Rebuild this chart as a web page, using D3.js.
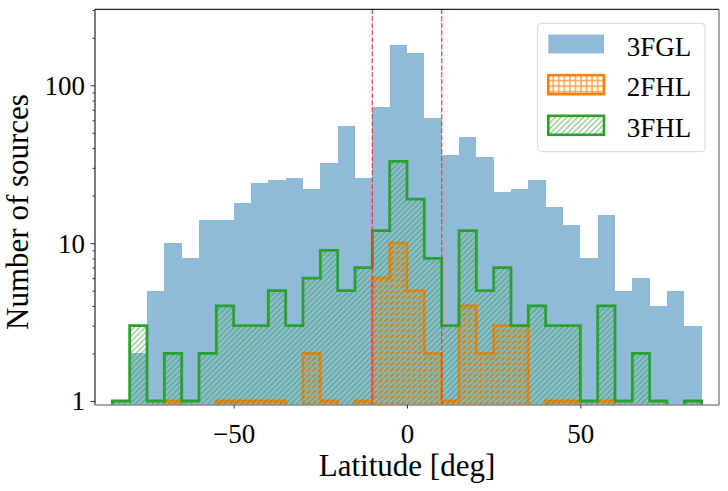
<!DOCTYPE html>
<html><head><meta charset="utf-8">
<script src="https://cdn.jsdelivr.net/npm/d3@7"></script>
<style>
html,body{margin:0;padding:0;background:#fff;}
svg text{font-family:"Liberation Serif","DejaVu Serif",serif;fill:#000;}
</style></head>
<body><svg id="c" width="728" height="491"></svg>
<script>
// bin edges (deg)
const binStart = -85, binWidth = 5;
const latEdges = [-85,-80,-75,-70,-65,-60,-55,-50,-45,-40,-35,-30,-25,-20,-15,-10,-5,0,5,10,15,20,25,30,35,40,45,50,55,60,65,70,75,80,85];
// counts per bin
const fgl3 = [1,2,5,10,8,14,14,18,24,25,26,22,32,55,26,73,180,160,62,36,47,35,21,22,25,17,13,8,15,5,6,4,5,3];
const fhl2 = [0,0,0,1,0,0,1,1,1,1,0,2,1,0,1,6,10,5,2,1,4,2,3,3,0,1,1,0,1,0,0,0,0,0];
const fhl3 = [1,3,1,2,1,2,4,3,3,5,3,6,9,5,7,12,33,19,8,3,12,5,7,3,4,3,3,1,4,1,2,1,0,1];
const xTicks = [-50,0,50];
const yTicks = [1,10,100];
const vLines = [-10,10];
const seriesNames = ["3FGL","2FHL","3FHL"];

const svg = d3.select("#c");
const L = 95, R = 719, T = 9.3, B = 405;
const x = d3.scaleLinear().domain([-90,90]).range([L,R]);
const y = d3.scaleLog().domain([0.943,303]).range([B,T]);

const defs = svg.append("defs");
defs.append("clipPath").attr("id","clip").append("rect")
  .attr("x",L).attr("y",T).attr("width",R-L).attr("height",B-T);
const hs = 5.56;
const pg = defs.append("pattern").attr("id","hatchG").attr("patternUnits","userSpaceOnUse")
  .attr("width",hs).attr("height",hs);
pg.append("path").attr("d",`M0,${hs} L${hs},0 M${-hs/2},${hs/2} L${hs/2},${-hs/2} M${hs/2},${hs*1.5} L${hs*1.5},${hs/2}`)
  .attr("stroke","#2ca02c").attr("stroke-width",1).attr("stroke-opacity",0.75);
const po = defs.append("pattern").attr("id","hatchO").attr("patternUnits","userSpaceOnUse")
  .attr("width",hs).attr("height",hs);
po.append("path").attr("d",`M0,${hs/2} L${hs},${hs/2} M${hs/2},0 L${hs/2},${hs}`)
  .attr("stroke","#ff7f0e").attr("stroke-width",1.3).attr("stroke-opacity",0.8);

const plot = svg.append("g").attr("clip-path","url(#clip)");

// 3FGL bars
plot.selectAll("rect.fgl").data(fgl3).enter().append("rect")
  .attr("x",(d,i)=>x(latEdges[i]))
  .attr("width",(d,i)=>x(latEdges[i+1])-x(latEdges[i]))
  .attr("y",d=> d>0 ? y(d) : B)
  .attr("height",d=> d>0 ? B+5-y(d) : 0)
  .attr("fill","#1f77b4").attr("fill-opacity",0.5)
  .attr("shape-rendering","crispEdges");

function stepPoints(vals){
  const low = B+6;
  const pts = [[x(latEdges[0]),low]];
  vals.forEach((v,i)=>{
    const yy = v>0 ? y(v) : low;
    pts.push([x(latEdges[i]),yy]);
    pts.push([x(latEdges[i+1]),yy]);
  });
  pts.push([x(latEdges[latEdges.length-1]),low]);
  return pts;
}
const line = d3.line();
function drawStep(vals, color, pat){
  const pts = stepPoints(vals);
  plot.append("path").attr("d",line(pts)+"Z").attr("fill",`url(#${pat})`).attr("stroke","none");
  plot.append("path").attr("d",line(pts)).attr("fill","none").attr("stroke",color)
    .attr("stroke-width",2.8).attr("stroke-linejoin","miter");
}
drawStep(fhl2,"#ff7f0e","hatchO");
drawStep(fhl3,"#2ca02c","hatchG");

// dashed lines
plot.selectAll("line.v").data(vLines).enter().append("line")
  .attr("x1",d=>x(d)).attr("x2",d=>x(d)).attr("y1",T).attr("y2",B)
  .attr("stroke","#f03030").attr("stroke-opacity",0.85).attr("stroke-width",1.3)
  .attr("stroke-dasharray","5,2");

// spines
svg.append("line").attr("x1",L).attr("x2",R).attr("y1",T).attr("y2",T).attr("stroke","#222").attr("stroke-width",1.2);
svg.append("line").attr("x1",L).attr("x2",L).attr("y1",T).attr("y2",B).attr("stroke","#222").attr("stroke-width",1.2);
svg.append("line").attr("x1",R).attr("x2",R).attr("y1",T).attr("y2",B).attr("stroke","#8a8a8a").attr("stroke-width",1.5);
svg.append("line").attr("x1",L).attr("x2",R).attr("y1",B).attr("y2",B).attr("stroke","#8a8a8a").attr("stroke-width",1.5);

// x axis
const fmtX = d => d<0 ? "\u2212"+Math.abs(d) : String(d);
const xg = svg.append("g").attr("transform",`translate(0,${B})`)
  .call(d3.axisBottom(x).tickValues(xTicks).tickSize(3.5).tickPadding(3).tickFormat(fmtX));
xg.select(".domain").remove();
xg.selectAll("line").attr("stroke","#333");
xg.selectAll("text").attr("font-size","27px").attr("dy",null).attr("y",null)
  .attr("transform","translate(0,37.7)").style("font-family","Liberation Serif, serif");

// y axis major
const yg = svg.append("g").attr("transform",`translate(${L},0)`)
  .call(d3.axisLeft(y).tickValues(yTicks).tickSize(4.5).tickPadding(5.5).tickFormat(d3.format("d")));
yg.select(".domain").remove();
yg.selectAll("line").attr("stroke","#333");
yg.selectAll("text").attr("font-size","27px").attr("dy","0.33em").style("font-family","Liberation Serif, serif");
// y minor ticks
const minor = [];
[1,10,100].forEach(dec=>{ for(let k=2;k<=9;k++){ const v=k*dec; if(v<=303) minor.push(v);} });
const ym = svg.append("g").attr("transform",`translate(${L},0)`)
  .call(d3.axisLeft(y).tickValues(minor).tickSize(2.5).tickFormat(""));
ym.select(".domain").remove();
ym.selectAll("line").attr("stroke","#333");

// axis labels
svg.append("text").attr("x",407).attr("y",476).attr("text-anchor","middle")
  .attr("font-size","31px").text("Latitude [deg]");
svg.append("text").attr("transform","translate(27.5,212) rotate(-90)").attr("text-anchor","middle")
  .attr("font-size","31px").text("Number of sources");

// legend
const lg = svg.append("g");
lg.append("rect").attr("x",537.7).attr("y",23.3).attr("width",167.3).attr("height",128.4)
  .attr("rx",4).attr("fill","#fff").attr("fill-opacity",0.8).attr("stroke","#d6d6d6").attr("stroke-width",1);
const ly = [34.5,75.2,115.8];
lg.append("rect").attr("x",548.3).attr("y",ly[0]).attr("width",55.7).attr("height",19)
  .attr("fill","#1f77b4").attr("fill-opacity",0.5);
[[1,"#ff7f0e","hatchO"],[2,"#2ca02c","hatchG"]].forEach(([i,c,p])=>{
  lg.append("rect").attr("x",548.3).attr("y",ly[i]).attr("width",55.7).attr("height",19)
    .attr("fill",`url(#${p})`).attr("stroke",c).attr("stroke-width",2.6);
});
lg.selectAll("text.lt").data(seriesNames).enter().append("text")
  .attr("x",626.7).attr("y",(d,i)=>[55.5,96.3,137][i]).attr("font-size","27px").text(d=>d);
</script></body></html>
